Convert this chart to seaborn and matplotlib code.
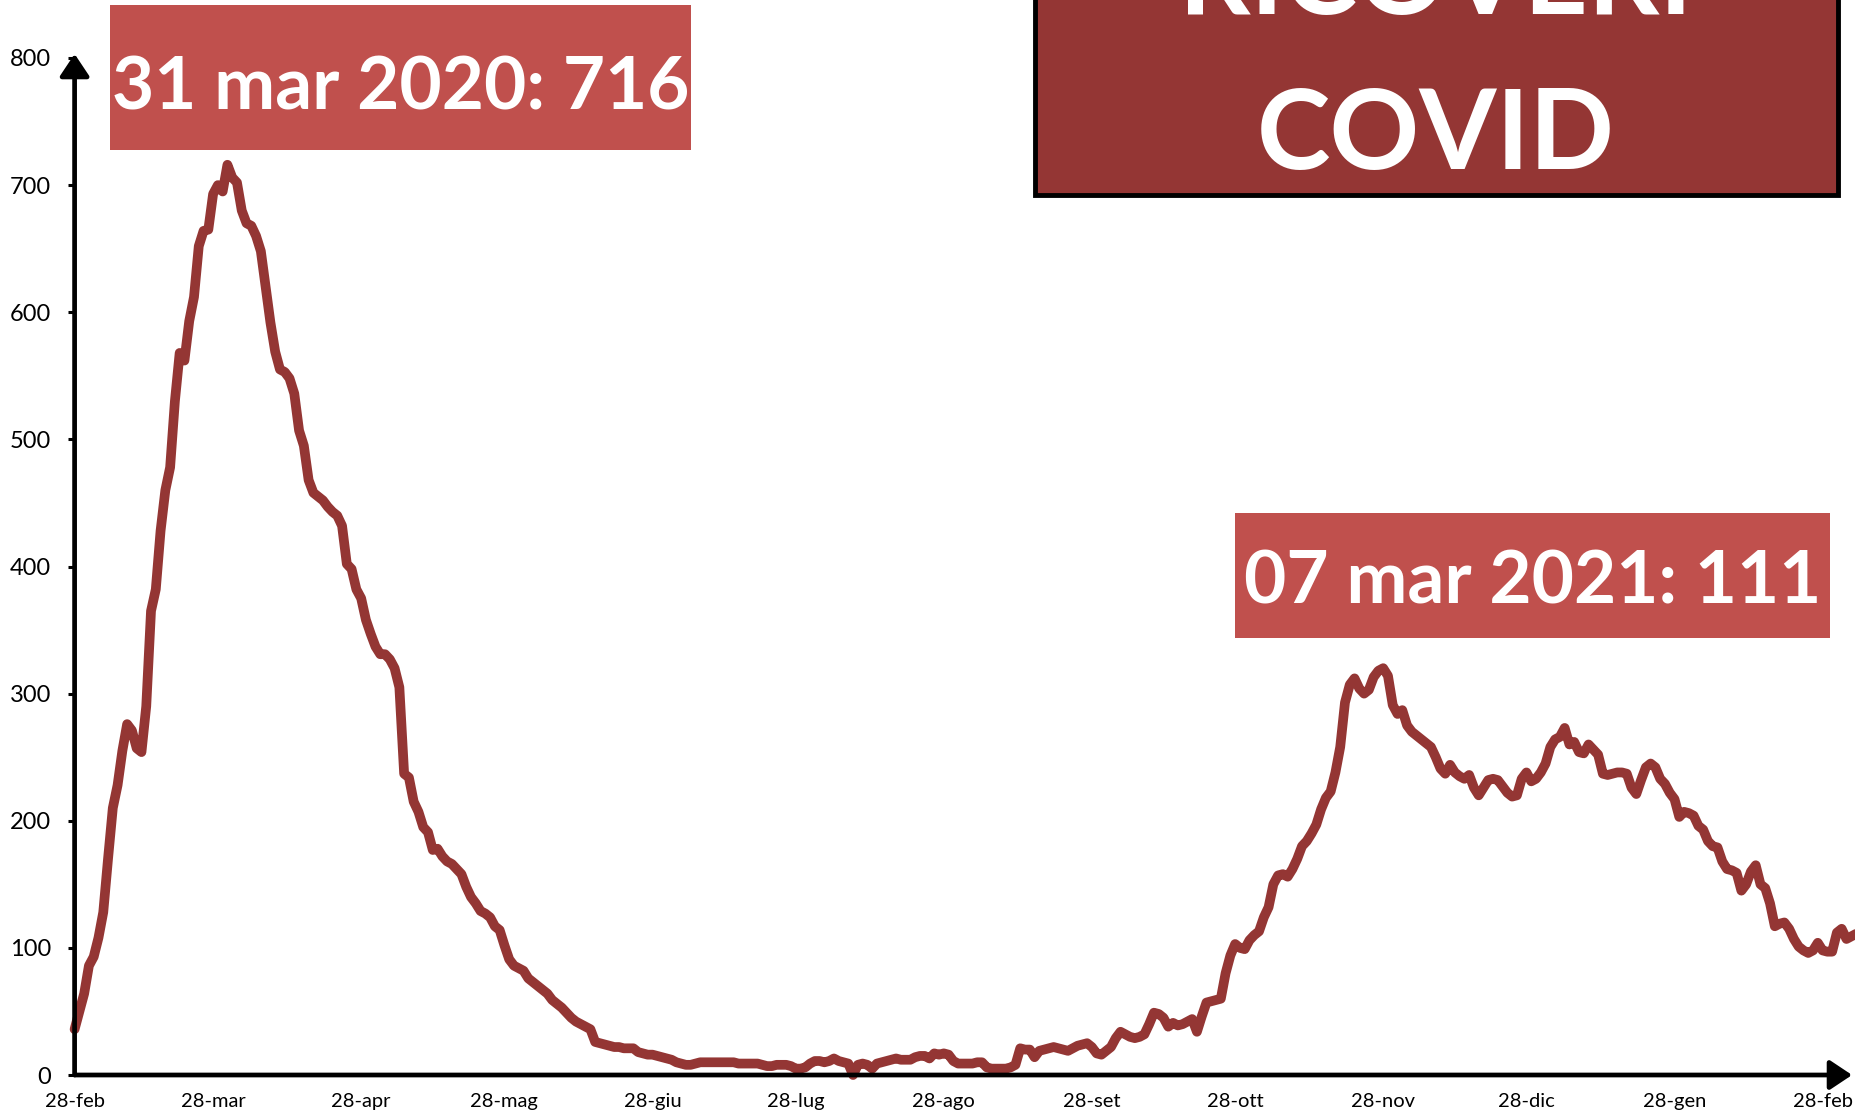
import matplotlib
matplotlib.use("Agg")
import matplotlib.pyplot as plt
from matplotlib import font_manager
from matplotlib.patches import Rectangle
import numpy as np
import pandas as pd
import seaborn as sns

# ricoveri covid giornalieri (dal 28 feb 2020 al 7 mar 2021)
START_DATE = "2020-02-28"

WAVE1 = [  # 28 feb - 28 giu 2020
    36, 50, 64, 86, 93, 108, 128, 170, 210, 228,
    255, 276, 271, 257, 254, 290, 365, 382, 428, 460,
    478, 530, 568, 562, 593, 612, 652, 664, 665, 693,
    700, 695, 716, 706, 702, 680, 670, 668, 660, 648,
    620, 592, 569, 555, 553, 548, 536, 507, 495, 468,
    458, 455, 452, 447, 443, 440, 432, 402, 398, 382,
    375, 358, 347, 337, 331, 331, 327, 320, 305, 237,
    234, 215, 207, 195, 191, 177, 178, 172, 168, 166,
    162, 158, 148, 140, 135, 129, 127, 124, 117, 114,
    102, 91, 86, 84, 82, 76, 73, 70, 67, 64,
    59, 56, 53, 49, 45, 42, 40, 38, 36, 26,
    25, 24, 23, 22, 22, 21, 21, 21, 18, 17, 16,
]
SUMMER = [  # 29 giu - 26 ott 2020
    16, 15, 14, 13, 12, 10, 9, 8, 8, 9,
    10, 10, 10, 10, 10, 10, 10, 10, 9, 9,
    9, 9, 9, 8, 7, 7, 8, 8, 8, 7,
    5, 5, 6, 9, 11, 11, 10, 11, 13, 11,
    10, 9, 0, 8, 9, 8, 5, 9, 10, 11,
    12, 13, 12, 12, 12, 14, 15, 15, 13, 17,
    16, 17, 16, 11, 9, 9, 9, 9, 10, 10,
    6, 5, 5, 5, 5, 6, 8, 21, 20, 20,
    14, 19, 20, 21, 22, 21, 20, 19, 21, 23,
    24, 25, 22, 17, 16, 19, 22, 29, 34, 32,
    30, 29, 30, 32, 40, 49, 48, 45, 38, 41,
    39, 40, 42, 44, 34, 46, 57, 58, 59, 60,
]
WAVE2 = [  # 27 ott 2020 - 7 mar 2021
    80, 94, 103, 100, 99, 106, 110, 113, 124, 132,
    150, 157, 158, 156, 162, 170, 180, 184, 190, 197,
    209, 218, 223, 238, 258, 293, 307, 312, 304, 300,
    303, 313, 318, 320, 314, 291, 284, 287, 275, 270,
    267, 264, 261, 258, 250, 241, 237, 244, 238, 235,
    233, 236, 226, 220, 226, 232, 233, 232, 227, 222,
    219, 220, 233, 238, 231, 233, 238, 245, 258, 264,
    266, 273, 260, 262, 254, 253, 260, 256, 252, 237,
    236, 237, 238, 238, 237, 226, 221, 232, 242, 245,
    242, 233, 229, 222, 217, 203, 207, 206, 204, 196,
    193, 184, 180, 179, 168, 162, 161, 159, 145, 150,
    160, 165, 150, 147, 135, 117, 119, 120, 115, 107,
    101, 98, 96, 98, 104, 98, 97, 97, 112, 115,
    107, 109, 111,
]

TICK_DATES = ["2020-02-28", "2020-03-28", "2020-04-28", "2020-05-28", "2020-06-28",
              "2020-07-28", "2020-08-28", "2020-09-28", "2020-10-28", "2020-11-28",
              "2020-12-28", "2021-01-28", "2021-02-28"]
TICK_LABELS = ["28-feb", "28-mar", "28-apr", "28-mag", "28-giu", "28-lug", "28-ago",
               "28-set", "28-ott", "28-nov", "28-dic", "28-gen", "28-feb"]
Y_TICKS = [0, 100, 200, 300, 400, 500, 600, 700, 800]

PEAK_LABEL = "31 mar 2020: 716"
LAST_LABEL = "07 mar 2021: 111"
TITLE_LINES = ["RICOVERI", "COVID"]

LINE_COLOR = "#943634"
BOX_COLOR = "#C0504D"

sns.set_theme(style="white")
names = {f.name for f in font_manager.fontManager.ttflist}
narrow = "Liberation Sans Narrow" in names
tick_font = "Liberation Sans Narrow" if narrow else "Lato"
plt.rcParams["font.family"] = ["Lato", "DejaVu Sans"]

values = WAVE1 + SUMMER + WAVE2
df = pd.DataFrame({
    "data": pd.date_range(START_DATE, periods=len(values), freq="D"),
    "ricoveri": values,
})

W, H = 1856, 1115
fig = plt.figure(figsize=(W / 100, H / 100), dpi=100)
ax = fig.add_axes([74.6 / W, 40 / H, 1 - 74.6 / W, 1017 / H])

sns.lineplot(data=df, x="data", y="ricoveri", ax=ax, color=LINE_COLOR, linewidth=7)
for ln in ax.lines:
    ln.set_linewidth(7)
    ln.set_solid_joinstyle("round")
    ln.set_solid_capstyle("round")
    ln.set_clip_on(False)

ax.set_xlim(pd.Timestamp(START_DATE), pd.Timestamp(START_DATE) + pd.Timedelta(days=373))
ax.set_ylim(0, 800)
ax.set_xlabel("")
ax.set_ylabel("")
for s in ax.spines.values():
    s.set_visible(False)

ax.set_yticks(Y_TICKS)
ax.set_yticklabels([str(v) for v in Y_TICKS], fontfamily=tick_font,
                   fontsize=19 if narrow else 17)
ax.set_xticks(pd.to_datetime(TICK_DATES))
ax.set_xticklabels(TICK_LABELS, fontfamily=tick_font, fontsize=17 if narrow else 14.5)
ax.tick_params(axis="y", left=True, length=5, width=2.2, color="black", pad=12, labelcolor="black")
ax.tick_params(axis="x", bottom=False, length=0, pad=13, labelcolor="black")

# assi con freccia
arrow = dict(arrowstyle="-|>,head_length=0.75,head_width=0.5", color="black", lw=3.4,
             shrinkA=0, shrinkB=0, mutation_scale=18)
ax.annotate("", xy=(0.9978, 0), xytext=(0, 0), xycoords="axes fraction", arrowprops=arrow,
            annotation_clip=False)
ax.annotate("", xy=(0, 1.004), xytext=(0, 0), xycoords="axes fraction", arrowprops=arrow,
            annotation_clip=False)

# riquadri con etichette
def label_box(x0, y0, x1, y1, text, baseline):
    fig.patches.append(Rectangle((x0 / W, 1 - y1 / H), (x1 - x0) / W, (y1 - y0) / H,
                                 transform=fig.transFigure, facecolor=BOX_COLOR,
                                 edgecolor="none", zorder=5))
    fig.text((x0 + x1) / 2 / W, 1 - baseline / H, text, ha="center", va="baseline",
             color="white", fontsize=52.5, fontweight="bold", zorder=6)

label_box(110, 5, 691, 150, PEAK_LABEL, 109)
label_box(1235, 513, 1830, 638, LAST_LABEL, 604)

# titolo
fig.patches.append(Rectangle((1035 / W, 1 - 195 / H), (1838 - 1035) / W, 0.3,
                             transform=fig.transFigure, facecolor=LINE_COLOR,
                             edgecolor="black", linewidth=3.5, zorder=5))
fig.text(1436 / W, 1 - 14 / H, TITLE_LINES[0], ha="center", va="baseline", color="white",
         fontsize=80, fontweight="bold", zorder=6)
fig.text(1436 / W, 1 - 169 / H, TITLE_LINES[1], ha="center", va="baseline", color="white",
         fontsize=80, fontweight="bold", zorder=6)

fig.savefig("out.png", dpi=100)
